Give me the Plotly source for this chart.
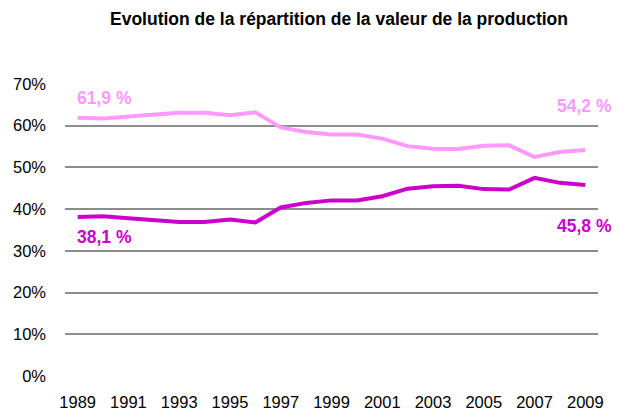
import plotly.graph_objects as go

years = list(range(1989, 2010))
share_a = [61.9, 61.7, 62.2, 62.7, 63.1, 63.1, 62.5, 63.2, 59.6, 58.5, 57.9,
           57.9, 56.9, 55.1, 54.5, 54.4, 55.2, 55.3, 52.5, 53.7, 54.2]
share_b = [38.1, 38.3, 37.8, 37.3, 36.9, 36.9, 37.5, 36.8, 40.4, 41.5, 42.1,
           42.1, 43.1, 44.9, 45.5, 45.6, 44.8, 44.7, 47.5, 46.3, 45.8]
y_ticks = [0, 10, 20, 30, 40, 50, 60, 70]
y_labels = [f"{v}%" for v in y_ticks]
x_ticks = list(range(1989, 2010, 2))

PINK = "#FF99FF"
PURPLE = "#CC00CC"
FONT = "Liberation Sans Narrow, Arial Narrow, Liberation Sans, Arial"

# the page body adds an 8px offset, so the figure is sized to fit the window
W, H = 614, 406

fig = go.Figure()
fig.add_trace(go.Scatter(x=years, y=share_a, mode="lines",
                         line=dict(color=PINK, width=4), hoverinfo="skip"))
fig.add_trace(go.Scatter(x=years, y=share_b, mode="lines",
                         line=dict(color=PURPLE, width=4), hoverinfo="skip"))

def fmt(v):
    return f"{v:.1f}".replace(".", ",") + " %"

lab_font = dict(family=FONT, size=17.5)
fig.add_annotation(x=years[0], y=66.7, text=f"<b>{fmt(share_a[0])}</b>", showarrow=False,
                   xanchor="left", yanchor="middle", xshift=-3, font=dict(color=PINK, **lab_font))
fig.add_annotation(x=years[0], y=33.3, text=f"<b>{fmt(share_b[0])}</b>", showarrow=False,
                   xanchor="left", yanchor="middle", xshift=-3, font=dict(color=PURPLE, **lab_font))
fig.add_annotation(x=years[-1], y=64.7, text=f"<b>{fmt(share_a[-1])}</b>", showarrow=False,
                   xanchor="right", yanchor="middle", xshift=29, font=dict(color=PINK, **lab_font))
fig.add_annotation(x=years[-1], y=36.0, text=f"<b>{fmt(share_b[-1])}</b>", showarrow=False,
                   xanchor="right", yanchor="middle", xshift=29, font=dict(color=PURPLE, **lab_font))

fig.update_layout(
    width=W, height=H,
    margin=dict(l=57, r=24, t=76, b=38, autoexpand=False),
    paper_bgcolor="white", plot_bgcolor="white",
    showlegend=False,
    title=dict(text="<b>Evolution de la répartition de la valeur de la production</b>",
               x=331 / W, xanchor="center", y=1 - 11 / H, yanchor="middle",
               font=dict(family=FONT, size=17.5, color="black")),
    font=dict(family=FONT, color="black"),
)
fig.update_xaxes(range=[1988.5, 2009.5], tickvals=x_ticks, ticktext=[str(v) for v in x_ticks],
                 showgrid=False, zeroline=False, showline=False, ticks="", automargin=False,
                 tickfont=dict(family=FONT, size=16.5), ticklabelstandoff=14)
fig.update_yaxes(range=[0, 70], tickvals=y_ticks, ticktext=y_labels,
                 showgrid=True, gridcolor="#8C8C8C", gridwidth=2,
                 zeroline=False, showline=False, ticks="", automargin=False,
                 tickfont=dict(family=FONT, size=16.5), ticklabelstandoff=18)

fig.write_html("out.html")
